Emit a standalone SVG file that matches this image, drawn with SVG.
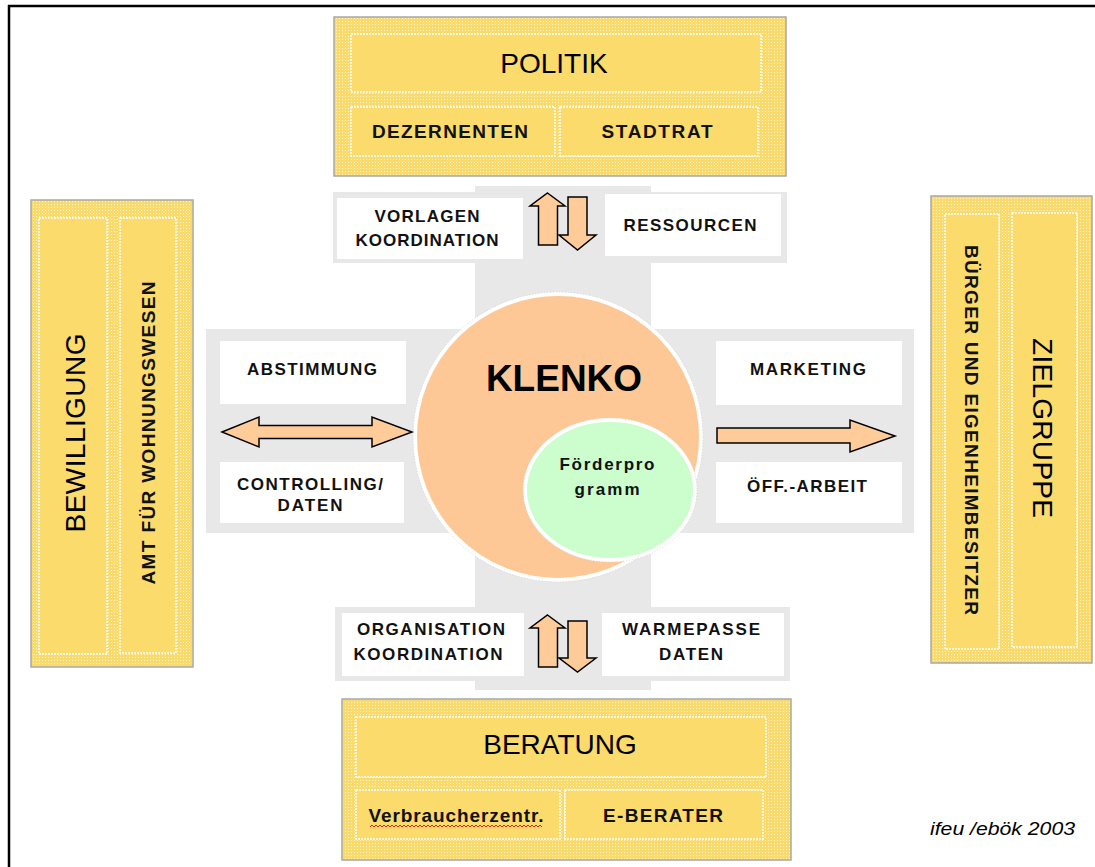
<svg xmlns="http://www.w3.org/2000/svg" width="1095" height="867" viewBox="0 0 1095 867">
<defs>
<pattern id="dots" width="3" height="3" patternUnits="userSpaceOnUse">
<rect width="3" height="3" fill="#f9da6c"/>
<rect width="1" height="1" fill="#fff4cc"/>
</pattern>
<pattern id="wave" width="4" height="4" patternUnits="userSpaceOnUse" x="370" y="824">
<path d="M0,3 L2,1 L4,3" fill="none" stroke="#e02020" stroke-width="1"/>
</pattern>
<style>
.outer{fill:url(#dots);stroke:#a8a8a8;stroke-width:1.5}
.inner{fill:#fadb6b;stroke:#fff;stroke-width:1.5;stroke-dasharray:2 1}
.wbox{fill:#fff}
.band{fill:#e8e8e8}
.arrow{fill:#ffcc99;stroke:#000;stroke-width:1.5;stroke-linejoin:miter}
.lbl{font-family:"Liberation Sans",Arial,sans-serif;font-weight:bold;font-size:17px;fill:#111;text-anchor:middle}
.big{font-family:"Liberation Sans",Arial,sans-serif;font-size:28px;fill:#000;text-anchor:middle}
.mid{font-family:"Liberation Sans",Arial,sans-serif;font-weight:bold;font-size:19px;fill:#111;text-anchor:middle}
</style>
</defs>
<rect width="1095" height="867" fill="#fff"/>
<g id="frame">
<line x1="8" y1="6" x2="1095" y2="6" stroke="#000" stroke-width="2.5"/>
<line x1="9" y1="5" x2="9" y2="867" stroke="#000" stroke-width="2.5"/>
</g>
<g id="bands">
<rect class="band" x="475" y="186" width="176" height="504"/>
<rect class="band" x="206" y="329" width="708" height="204"/>
<rect class="band" x="333" y="192" width="454" height="71"/>
<rect class="band" x="335" y="607" width="455" height="74"/>
</g>
<g id="politik">
<rect class="outer" x="334" y="17" width="452" height="159"/>
<rect class="inner" x="351" y="34" width="410" height="58"/>
<text class="big" x="554" y="73">POLITIK</text>
<rect class="inner" x="351" y="107" width="204" height="49"/>
<text class="mid" x="450" y="138" textLength="156" lengthAdjust="spacing">DEZERNENTEN</text>
<rect class="inner" x="560" y="107" width="198" height="49"/>
<text class="mid" x="657" y="138" textLength="111" lengthAdjust="spacing">STADTRAT</text>
</g>
<g id="top-labels">
<rect class="wbox" x="337" y="198" width="186" height="61"/>
<text class="lbl" x="427" y="222" textLength="105" lengthAdjust="spacing">VORLAGEN</text>
<text class="lbl" x="427" y="246" textLength="143" lengthAdjust="spacing">KOORDINATION</text>
<rect class="wbox" x="605" y="194" width="176" height="62"/>
<text class="lbl" x="690" y="231" textLength="133" lengthAdjust="spacing">RESSOURCEN</text>
</g>
<g id="left-labels">
<rect class="wbox" x="220" y="341" width="186" height="63"/>
<text class="lbl" x="312" y="375" textLength="130" lengthAdjust="spacing">ABSTIMMUNG</text>
<rect class="wbox" x="220" y="462" width="184" height="61"/>
<text class="lbl" x="310" y="490" textLength="146" lengthAdjust="spacing">CONTROLLING/</text>
<text class="lbl" x="310" y="511" textLength="65" lengthAdjust="spacing">DATEN</text>
</g>
<g id="right-labels">
<rect class="wbox" x="716" y="341" width="186" height="64"/>
<text class="lbl" x="808" y="375" textLength="116" lengthAdjust="spacing">MARKETING</text>
<rect class="wbox" x="716" y="462" width="186" height="61"/>
<text class="lbl" x="807" y="492" textLength="120" lengthAdjust="spacing">ÖFF.-ARBEIT</text>
</g>
<g id="bottom-labels">
<rect class="wbox" x="342" y="613" width="182" height="63"/>
<text class="lbl" x="431" y="635" textLength="148" lengthAdjust="spacing">ORGANISATION</text>
<text class="lbl" x="428" y="660" textLength="149" lengthAdjust="spacing">KOORDINATION</text>
<rect class="wbox" x="602" y="613" width="182" height="63"/>
<text class="lbl" x="691" y="635" textLength="138" lengthAdjust="spacing">WARMEPASSE</text>
<text class="lbl" x="691" y="660" textLength="64" lengthAdjust="spacing">DATEN</text>
</g>
<g id="klenko">
<circle cx="558" cy="437" r="143" fill="#fdc895" stroke="#fff" stroke-width="4"/>
<circle cx="558" cy="437" r="145" fill="none" stroke="#d8d8d8" stroke-width="1" stroke-dasharray="1 2"/>
<text x="564" y="391" font-family="'Liberation Sans',Arial,sans-serif" font-weight="bold" font-size="37" text-anchor="middle" fill="#000">KLENKO</text>
</g>
<g id="foerderprogramm">
<ellipse cx="610" cy="490" rx="85" ry="70" fill="#ccfdcc" stroke="#fff" stroke-width="4"/>
<ellipse cx="610" cy="490" rx="87" ry="72" fill="none" stroke="#d8d8d8" stroke-width="1" stroke-dasharray="1 2"/>
<text x="607" y="470" font-family="'Liberation Sans',Arial,sans-serif" font-weight="bold" font-size="17" text-anchor="middle" fill="#111" textLength="95" lengthAdjust="spacing">Förderpro</text>
<text x="607" y="495" font-family="'Liberation Sans',Arial,sans-serif" font-weight="bold" font-size="17" text-anchor="middle" fill="#111" textLength="65" lengthAdjust="spacing">gramm</text>
</g>
<g id="bewilligung">
<rect class="outer" x="31" y="200" width="162" height="467"/>
<rect class="inner" x="39" y="218" width="68" height="436"/>
<text class="big" transform="translate(85,433) rotate(-90)" textLength="199" lengthAdjust="spacing">BEWILLIGUNG</text>
<rect class="inner" x="120" y="218" width="56" height="435"/>
<text class="mid" font-size="18" transform="translate(155,433) rotate(-90)" textLength="303" lengthAdjust="spacing">AMT FÜR WOHNUNGSWESEN</text>
</g>
<g id="zielgruppe">
<rect class="outer" x="931" y="196" width="161" height="467"/>
<rect class="inner" x="945" y="214" width="54" height="435"/>
<text class="mid" font-size="18" transform="translate(965,430) rotate(90)" textLength="370" lengthAdjust="spacing">BÜRGER UND EIGENHEIMBESITZER</text>
<rect class="inner" x="1012" y="213" width="65" height="434"/>
<text class="big" transform="translate(1033,428) rotate(90)" textLength="180" lengthAdjust="spacing">ZIELGRUPPE</text>
</g>
<g id="beratung">
<rect class="outer" x="342" y="699" width="449" height="161"/>
<rect class="inner" x="356" y="717" width="410" height="60"/>
<text class="big" x="560" y="754">BERATUNG</text>
<rect class="inner" x="356" y="790" width="204" height="49"/>
<text class="mid" x="456" y="822" textLength="175" lengthAdjust="spacing">Verbraucherzentr.</text>
<rect x="370" y="824" width="172" height="4" fill="url(#wave)"/>
<rect class="inner" x="565" y="790" width="198" height="49"/>
<text class="mid" font-size="20" x="663" y="822" textLength="120" lengthAdjust="spacing">E-BERATER</text>
</g>
<g id="connectors">
<path class="arrow" d="M547.5,193 L565,206 L557.5,206 L557.5,245 L538.5,245 L538.5,206 L530,206 Z"/>
<path class="arrow" d="M568,197 L587,197 L587,235 L596,235 L577.5,250 L559,235 L568,235 Z"/>
<path class="arrow" d="M547.5,615 L565,628 L557.5,628 L557.5,667 L538.5,667 L538.5,628 L530,628 Z"/>
<path class="arrow" d="M568,621 L587,621 L587,658 L596,658 L577.5,672 L559,658 L568,658 Z"/>
<path class="arrow" d="M222,432 L259,417 L259,425.5 L372,425.5 L372,417 L412,432 L372,447 L372,438.5 L259,438.5 L259,447 Z"/>
<path class="arrow" d="M717,428 L850,428 L850,420 L895,436 L850,452 L850,443 L717,443 Z"/>
</g>
<text x="930" y="835" font-family="'Liberation Sans',Arial,sans-serif" font-style="italic" font-size="19" fill="#000" textLength="145" lengthAdjust="spacingAndGlyphs">ifeu /ebök 2003</text>
</svg>
